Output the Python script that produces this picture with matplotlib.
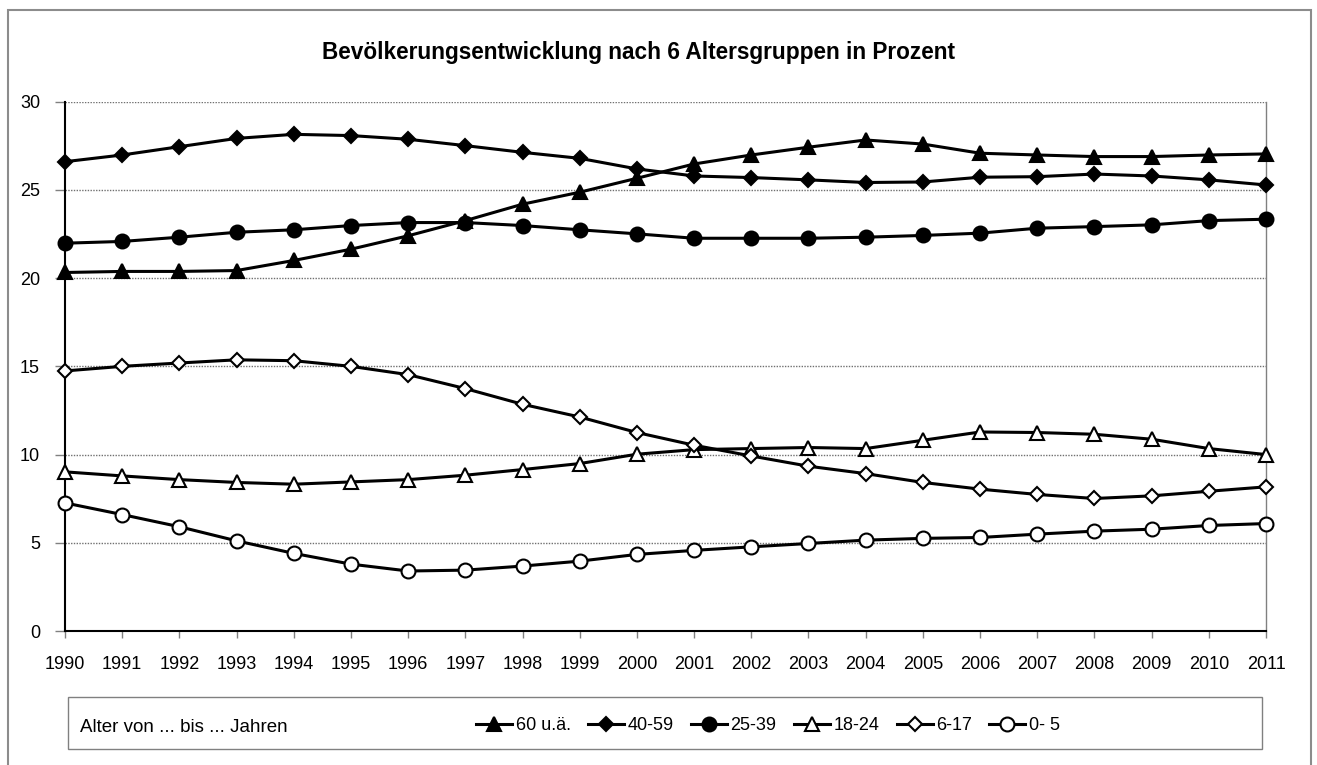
import matplotlib
matplotlib.use("Agg")
import matplotlib.pyplot as plt
from matplotlib.patches import Rectangle

plt.rcParams['font.family'] = ['Liberation Sans', 'DejaVu Sans']

years = list(range(1990, 2012))
year_labels = [str(y) for y in years]

s60 = [20.32, 20.38, 20.38, 20.43, 21.0, 21.64, 22.4, 23.26, 24.19, 24.87, 25.66,
       26.47, 26.98, 27.42, 27.83, 27.6, 27.08, 26.98, 26.89, 26.89, 26.98, 27.04]
s40 = [26.6, 26.98, 27.45, 27.92, 28.15, 28.08, 27.87, 27.51, 27.13, 26.79, 26.19,
       25.79, 25.7, 25.57, 25.42, 25.45, 25.72, 25.75, 25.9, 25.79, 25.57, 25.28]
s25 = [21.98, 22.08, 22.32, 22.6, 22.74, 22.98, 23.15, 23.15, 22.98, 22.74, 22.51,
       22.26, 22.26, 22.26, 22.32, 22.42, 22.55, 22.83, 22.92, 23.02, 23.26, 23.34]
s18 = [9.02, 8.79, 8.58, 8.42, 8.32, 8.45, 8.58, 8.83, 9.15, 9.49, 10.02,
       10.28, 10.34, 10.4, 10.34, 10.81, 11.28, 11.25, 11.15, 10.87, 10.34, 10.0]
s6 = [14.74, 15.0, 15.19, 15.37, 15.32, 15.0, 14.53, 13.74, 12.85, 12.13, 11.25,
      10.53, 9.92, 9.34, 8.92, 8.42, 8.04, 7.74, 7.51, 7.66, 7.92, 8.17]
s0 = [7.26, 6.6, 5.91, 5.11, 4.4, 3.79, 3.4, 3.45, 3.68, 3.96, 4.34,
      4.57, 4.77, 4.96, 5.15, 5.25, 5.3, 5.49, 5.66, 5.77, 5.98, 6.09]

series_labels = ['60 u.ä.', '40-59', '25-39', '18-24', '6-17', '0- 5']
series_values = [s60, s40, s25, s18, s6, s0]
markers = ['^', 'D', 'o', '^', 'D', 'o']
fills = ['black', 'black', 'black', 'white', 'white', 'white']
msizes = [10, 7, 10, 10, 7, 10]

title = 'Bevölkerungsentwicklung nach 6 Altersgruppen in Prozent'
legend_title = 'Alter von ... bis ... Jahren'
yticks = [0, 5, 10, 15, 20, 25, 30]

W, H = 1317, 765
fig = plt.figure(figsize=(W / 100, H / 100), dpi=100)

# outer frame
fig.patches.append(Rectangle((8 / W, -0.02), (1311 - 8) / W, 1 - 10 / H + 0.02,
                             transform=fig.transFigure, fill=False,
                             edgecolor='#8c8c8c', linewidth=1.5))

ax = fig.add_axes([65 / W, 1 - 631 / H, (1266 - 65) / W, (631 - 101.7) / H])

handles = []
for lab, vals, mk, fc, ms in zip(series_labels, series_values, markers, fills, msizes):
    h, = ax.plot(years, vals, color='black', linewidth=2.2, marker=mk,
                 markersize=ms, markerfacecolor=fc, markeredgecolor='black',
                 markeredgewidth=1.5, label=lab, zorder=3, clip_on=False)
    handles.append(h)

ax.set_xlim(1990, 2011)
ax.set_ylim(0, 30)
ax.set_xticks(years)
ax.set_xticklabels(year_labels)
ax.set_yticks(yticks)
ax.tick_params(axis='both', labelsize=13, colors='#808080', labelcolor='black',
               direction='out', length=5, width=1)
ax.tick_params(axis='y', pad=11, length=7)
ax.tick_params(axis='x', pad=13)
for y in yticks[1:]:
    ax.axhline(y, color='#707070', linewidth=1.0, linestyle=(0, (1, 1)), zorder=1)

ax.spines['top'].set_visible(False)
ax.spines['right'].set_color('#808080')
ax.spines['right'].set_linewidth(1.0)
ax.spines['left'].set_color('black')
ax.spines['left'].set_linewidth(1.5)
ax.spines['bottom'].set_color('black')
ax.spines['bottom'].set_linewidth(1.5)

fig.text(638 / W, 1 - 53 / H, title, ha='center', va='center',
         fontsize=16.3, fontweight='bold')

# legend box
fig.patches.append(Rectangle((68 / W, 1 - 749 / H), (1262 - 68) / W, (749 - 697) / H,
                             transform=fig.transFigure, fill=False,
                             edgecolor='#808080', linewidth=1.0))
fig.text(80 / W, 1 - 727 / H, legend_title, ha='left', va='center', fontsize=13.5)
fig.legend(handles=handles, labels=series_labels, loc='center left',
           bbox_to_anchor=(476 / W, 1 - 726 / H), ncol=6, frameon=False,
           fontsize=13, handlelength=2.0, handletextpad=0.2,
           columnspacing=0.95, borderpad=0, borderaxespad=0)

fig.savefig('out.png', dpi=100)
